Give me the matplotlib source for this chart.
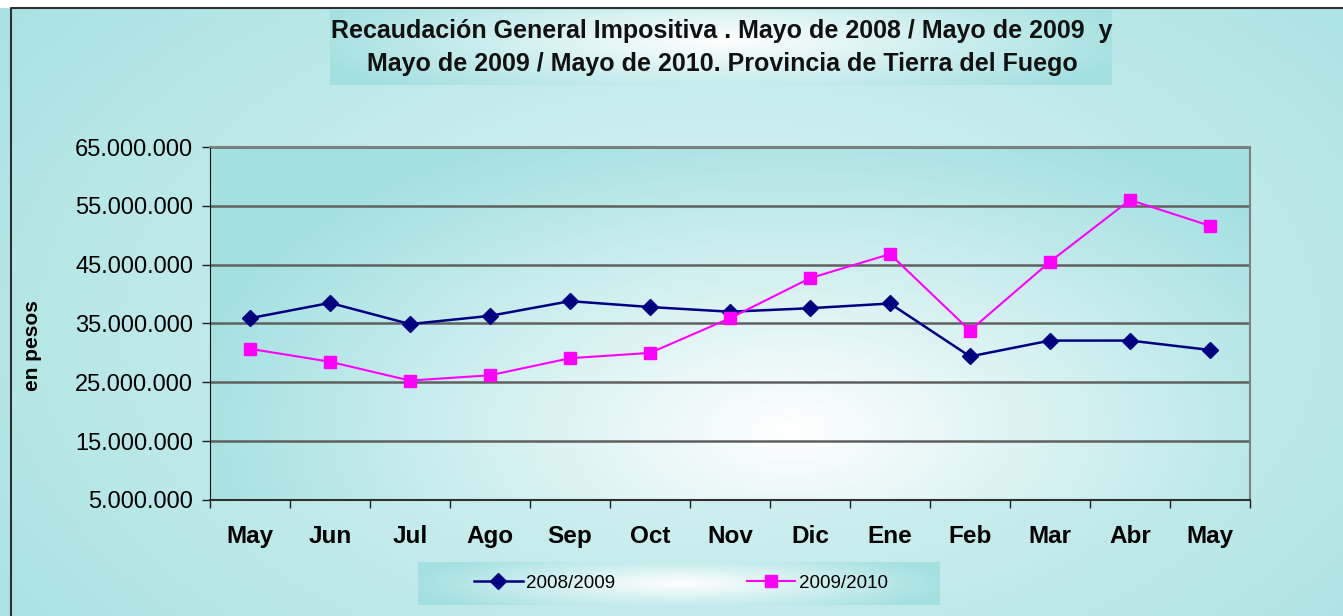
import numpy as np
import matplotlib
matplotlib.use("Agg")
import matplotlib.pyplot as plt
from matplotlib.ticker import FuncFormatter, FixedLocator
from matplotlib.lines import Line2D

plt.rcParams['font.family'] = ['Liberation Sans', 'DejaVu Sans']

# Data
meses = ["May", "Jun", "Jul", "Ago", "Sep", "Oct", "Nov", "Dic", "Ene", "Feb", "Mar", "Abr", "May"]
serie_2008_2009 = [35900000, 38500000, 34900000, 36300000, 38800000, 37800000, 37000000,
                   37600000, 38400000, 29400000, 32100000, 32100000, 30500000]
serie_2009_2010 = [30700000, 28500000, 25300000, 26200000, 29100000, 30000000, 35900000,
                   42700000, 46800000, 33800000, 45500000, 56000000, 51600000]
y_ticks = [5000000, 15000000, 25000000, 35000000, 45000000, 55000000, 65000000]
etiquetas = ["2008/2009", "2009/2010"]

W, H = 1343, 616
fig = plt.figure(figsize=(W / 100, H / 100), dpi=100)

# background built as one image, pixel coordinates
teal = np.array([0.64, 0.88, 0.88])
white = np.array([1.0, 1.0, 1.0])
yy, xx = np.mgrid[0:H, 0:W]


def radial(cx, cy, sx, sy, lo=0.0):
    r = np.sqrt(((xx - cx) / sx) ** 2 + ((yy - cy) / sy) ** 2)
    t = np.clip(r, 0, 1)
    t = lo + (1 - lo) * t
    return (1 - t)[..., None] * white + t[..., None] * teal


img = radial(720, 330, 1000, 600, lo=0.35)
boxes = [
    ((210, 147, 1250, 500), (790, 430, 620, 330)),   # plot area
    ((330, 10, 1112, 85), (720, 40, 420, 70)),       # title box
    ((418, 562, 940, 605), (680, 583, 270, 35)),     # legend box
]
for (x0, y0, x1, y1), (cx, cy, sx, sy) in boxes:
    g = radial(cx, cy, sx, sy)
    img[y0:y1, x0:x1] = g[y0:y1, x0:x1]
img[:8, :] = 1.0

ax_bg = fig.add_axes([0, 0, 1, 1], zorder=0)
ax_bg.imshow(img, extent=(0, W, H, 0), aspect='auto', interpolation='bilinear')
ax_bg.plot([11, 11, W], [H, 8, 8], color='#303030', lw=1.5)
ax_bg.set_xlim(0, W)
ax_bg.set_ylim(H, 0)
ax_bg.axis('off')

# main chart
ax = fig.add_axes([210 / W, 1 - 500 / H, 1040 / W, 353 / H], zorder=1)
ax.set_facecolor('none')
x = np.arange(len(meses))
ax.plot(x, serie_2008_2009, color='#000080', lw=1.8, marker='D', markersize=8,
        markerfacecolor='#000080', markeredgecolor='#000080', label=etiquetas[0], zorder=3)
ax.plot(x, serie_2009_2010, color='#ff00ff', lw=1.5, marker='s', markersize=8,
        markerfacecolor='#ff00ff', markeredgecolor='#ff00ff', label=etiquetas[1], zorder=3)

ax.set_xlim(-0.5, len(meses) - 0.5)
ax.set_ylim(y_ticks[0], y_ticks[-1])
ax.set_yticks(y_ticks)
ax.yaxis.set_major_formatter(FuncFormatter(lambda v, p: f"{int(v):,}".replace(",", ".")))
ax.yaxis.grid(True, color='#606060', lw=1.8)
ax.set_axisbelow(True)

ax.xaxis.set_major_locator(FixedLocator(np.arange(-0.5, len(meses), 1.0)))
ax.xaxis.set_minor_locator(FixedLocator(x))
ax.set_xticklabels([])
ax.set_xticklabels(meses, minor=True)
ax.tick_params(axis='x', which='major', direction='out', length=6, width=1, color='#202020')
ax.tick_params(axis='x', which='minor', length=0, pad=18, labelsize=17.5)
for lab in ax.get_xticklabels(minor=True):
    lab.set_fontweight('bold')
ax.tick_params(axis='y', direction='out', length=6, width=1, color='#202020',
               labelsize=17, pad=6)

ax.spines['left'].set_color('#101010')
ax.spines['bottom'].set_color('#303030')
ax.spines['bottom'].set_linewidth(1.5)
ax.spines['top'].set_color('#808080')
ax.spines['top'].set_linewidth(1.5)
ax.spines['right'].set_color('#808080')
ax.spines['right'].set_linewidth(1.5)

fig.text(33 / W, 1 - 346 / H, "en pesos", rotation=90, ha='center', va='center',
         fontsize=15, fontweight='bold')

fig.text(722 / W, 1 - 31 / H, "Recaudación General Impositiva . Mayo de 2008 / Mayo de 2009  y",
         ha='center', va='center', fontsize=18, fontweight='bold', color='#111111')
fig.text(722 / W, 1 - 64 / H, "Mayo de 2009 / Mayo de 2010. Provincia de Tierra del Fuego",
         ha='center', va='center', fontsize=18, fontweight='bold', color='#111111')

handles = [
    Line2D([], [], color='#000080', lw=1.8, marker='D', markersize=8),
    Line2D([], [], color='#ff00ff', lw=1.5, marker='s', markersize=8),
]
fig.legend(handles, etiquetas, loc='center', bbox_to_anchor=(681 / W, 1 - 583 / H),
           ncol=2, frameon=False, fontsize=13.5, handlelength=2.6, columnspacing=7.0,
           handletextpad=0.2)

fig.savefig("out.png", dpi=100)
